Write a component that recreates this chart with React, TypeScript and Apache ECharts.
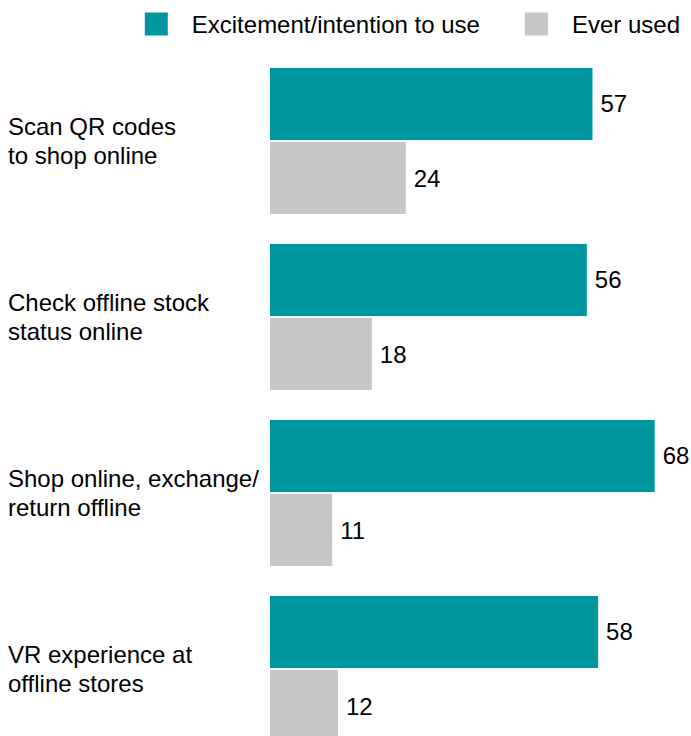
import React, { useEffect, useRef } from "react";
import * as echarts from "echarts";

const categories = [
  "Scan QR codes\nto shop online",
  "Check offline stock\nstatus online",
  "Shop online, exchange/\nreturn offline",
  "VR experience at\noffline stores",
];
const seriesNames = ["Excitement/intention to use", "Ever used"];
const excitement = [57, 56, 68, 58];
const everUsed = [24, 18, 11, 12];
const colors = ["#0096A0", "#C6C6C6"];

const FONT = "'Liberation Sans', Arial, Helvetica, sans-serif";

export default function App() {
  const ref = useRef<HTMLDivElement>(null);
  useEffect(() => {
    if (!ref.current) return;
    const chart = echarts.init(ref.current, undefined, { renderer: "svg" });
    const labelStyle = {
      show: true,
      position: "right" as const,
      distance: 8,
      color: "#000",
      fontSize: 24,
      fontFamily: FONT,
    };
    chart.setOption({
      animation: false,
      backgroundColor: "#fff",
      textStyle: { fontFamily: FONT },
      legend: {
        right: 11,
        top: 12,
        padding: 0,
        itemWidth: 23,
        itemHeight: 23,
        itemGap: 45,
        icon: "rect",
        textStyle: {
          fontSize: 24,
          color: "#000",
          fontFamily: FONT,
          padding: [0, 0, 0, 19],
        },
        data: seriesNames,
      },
      grid: { left: 270, right: 25, top: 53, bottom: 3, containLabel: false },
      xAxis: {
        type: "value",
        min: 0,
        max: 70,
        show: false,
        splitLine: { show: false },
      },
      yAxis: {
        type: "category",
        inverse: true,
        data: categories,
        axisLine: { show: false },
        axisTick: { show: false },
        axisLabel: {
          align: "left",
          margin: 262,
          color: "#000",
          fontSize: 24,
          lineHeight: 29,
          fontFamily: FONT,
        },
      },
      series: [
        {
          name: seriesNames[0],
          type: "bar",
          data: excitement,
          itemStyle: { color: colors[0] },
          barCategoryGap: "17%",
          barGap: "3%",
          label: labelStyle,
        },
        {
          name: seriesNames[1],
          type: "bar",
          data: everUsed,
          itemStyle: { color: colors[1] },
          barCategoryGap: "17%",
          barGap: "3%",
          label: labelStyle,
        },
      ],
    });
    return () => chart.dispose();
  }, []);
  return (
    <div
      style={{
        position: "fixed",
        left: 0,
        top: 0,
        width: 691,
        height: 736,
        overflow: "hidden",
        background: "#fff",
      }}
    >
      <div ref={ref} style={{ width: 691, height: 760 }} />
    </div>
  );
}
